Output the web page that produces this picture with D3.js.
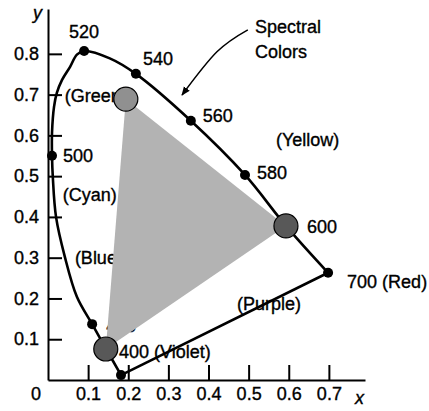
<!DOCTYPE html>
<html>
<head>
<meta charset="utf-8">
<script src="https://cdn.jsdelivr.net/npm/d3@7"></script>
<style>
  html, body { margin: 0; padding: 0; background: #fff; }
  svg { display: block; font-family: "Liberation Sans", Arial, Helvetica, sans-serif; }
  .axis text { font-size: 18px; fill: #000; stroke: #000; stroke-width: 0.35; }
  .axis path, .axis line { stroke: #000; stroke-width: 2; }
  .lbl { font-size: 18px; fill: #000; stroke: #000; stroke-width: 0.35; }
</style>
</head>
<body>
<script>
// spectral locus (chromaticity x, y)
const locusX = [0.182, 0.145, 0.110, 0.072, 0.042, 0.020, 0.012, 0.010, 0.010, 0.015, 0.022, 0.035, 0.055, 0.072, 0.090, 0.154, 0.219, 0.356, 0.491, 0.593, 0.698];
const locusY = [0.012, 0.076, 0.137, 0.204, 0.302, 0.400, 0.498, 0.550, 0.606, 0.670, 0.704, 0.736, 0.768, 0.798, 0.807, 0.789, 0.751, 0.636, 0.503, 0.378, 0.263];

// marked wavelengths
const waves = [400, 480, 500, 520, 540, 560, 580, 600, 700];
const waveX = [0.182, 0.110, 0.010, 0.090, 0.219, 0.356, 0.491, 0.593, 0.698];
const waveY = [0.012, 0.137, 0.550, 0.807, 0.751, 0.636, 0.503, 0.378, 0.263];
const waveText = ['400 (Violet)', '480', '500', '520', '540', '560', '580', '600', '700 (Red)'];

// primaries (triangle corners)
const primName = ['green', 'red', 'violet'];
const primX = [0.194, 0.593, 0.144];
const primY = [0.689, 0.378, 0.076];

// region labels
const regionText = ['(Green)', '(Cyan)', '(Blue)', '(Yellow)', '(Purple)'];
const regionX = [0.042, 0.037, 0.067, 0.568, 0.471];
const regionY = [0.683, 0.440, 0.285, 0.574, 0.172];

const xTicks = [0.1, 0.2, 0.3, 0.4, 0.5, 0.6, 0.7];
const yTicks = [0.1, 0.2, 0.3, 0.4, 0.5, 0.6, 0.7, 0.8];

// arrow from "Spectral Colors" to the curve
const arrowX = [0.498, 0.421, 0.334];
const arrowY = [0.859, 0.805, 0.699];

const width = 429, height = 411;

const x = d3.scaleLinear().domain([0, 0.79]).range([48, 365]);
const y = d3.scaleLinear().domain([0, 0.91]).range([380, 9]);

const svg = d3.select('body').append('svg')
  .attr('width', width)
  .attr('height', height);

svg.append('defs').append('marker')
  .attr('id', 'head')
  .attr('viewBox', '0 0 10 10')
  .attr('refX', 9).attr('refY', 5)
  .attr('markerWidth', 9).attr('markerHeight', 9)
  .attr('markerUnits', 'userSpaceOnUse')
  .attr('orient', 'auto')
  .append('path')
  .attr('d', 'M0,1 L10,5 L0,9 Z')
  .attr('fill', '#000');

// axes
svg.append('g')
  .attr('class', 'axis')
  .attr('transform', `translate(0,${y(0)})`)
  .call(d3.axisBottom(x).tickValues(xTicks).tickSize(-15).tickSizeOuter(0).tickPadding(7).tickFormat(d3.format('.1f')));

svg.append('g')
  .attr('class', 'axis')
  .attr('transform', `translate(${x(0)},0)`)
  .call(d3.axisLeft(y).tickValues(yTicks).tickSize(-14).tickSizeOuter(0).tickPadding(9).tickFormat(d3.format('.1f')));

svg.selectAll('.axis .domain').attr('stroke-width', 2);

svg.append('text').attr('class', 'lbl')
  .attr('x', x(0) - 12).attr('y', y(0) + 20)
  .attr('text-anchor', 'middle')
  .text('0');

svg.append('text').attr('class', 'lbl')
  .attr('x', x(0) - 15).attr('y', 19)
  .attr('font-style', 'italic')
  .text('y');

svg.append('text').attr('class', 'lbl')
  .attr('x', 355).attr('y', y(0) + 24)
  .attr('font-style', 'italic')
  .text('x');

// labels that end up partly hidden under the triangle
svg.selectAll('.region')
  .data(regionText)
  .join('text')
  .attr('class', 'lbl region')
  .attr('x', (d, i) => x(regionX[i]))
  .attr('y', (d, i) => y(regionY[i]))
  .text(d => d);

// offsets of wavelength labels from their dots
const off = {
  400: [-2, -17, 'start'], 480: [14, 8, 'start'], 500: [11, 6, 'start'],
  520: [0, -13, 'middle'], 540: [7, -9, 'start'], 560: [12, 1, 'start'],
  580: [12, 4, 'start'], 600: [21, 7, 'start'], 700: [19, 15, 'start'],
};

svg.selectAll('.wave')
  .data(waves)
  .join('text')
  .attr('class', 'lbl wave')
  .attr('x', (d, i) => x(waveX[i]) + off[d][0])
  .attr('y', (d, i) => y(waveY[i]) + off[d][1])
  .attr('text-anchor', d => off[d][2])
  .text((d, i) => waveText[i]);

const title = svg.append('text').attr('class', 'lbl')
  .attr('x', 255).attr('y', 33);
title.append('tspan').text('Spectral');
title.append('tspan').attr('x', 255).attr('dy', 25).text('Colors');

svg.append('path')
  .datum(arrowX.map((d, i) => [x(d), y(arrowY[i])]))
  .attr('d', d3.line().curve(d3.curveNatural))
  .attr('fill', 'none')
  .attr('stroke', '#000')
  .attr('stroke-width', 1.5)
  .attr('marker-end', 'url(#head)');

// gamut triangle
svg.append('path')
  .datum(primX.map((d, i) => [x(d), y(primY[i])]))
  .attr('d', d => 'M' + d.join('L') + 'Z')
  .attr('fill', '#b3b3b3');

// spectral locus + purple line
svg.append('path')
  .datum(locusX.map((d, i) => [x(d), y(locusY[i])]))
  .attr('d', d3.line().curve(d3.curveCatmullRom))
  .attr('fill', 'none')
  .attr('stroke', '#000')
  .attr('stroke-width', 2.6);

svg.append('line')
  .attr('x1', x(waveX[8])).attr('y1', y(waveY[8]))
  .attr('x2', x(waveX[0])).attr('y2', y(waveY[0]))
  .attr('stroke', '#000')
  .attr('stroke-width', 2.6);

svg.selectAll('.dot')
  .data(waves)
  .join('circle')
  .attr('class', 'dot')
  .attr('cx', (d, i) => x(waveX[i]))
  .attr('cy', (d, i) => y(waveY[i]))
  .attr('r', 5)
  .attr('fill', '#000');

svg.selectAll('.prim')
  .data(primName)
  .join('circle')
  .attr('class', 'prim')
  .attr('cx', (d, i) => x(primX[i]))
  .attr('cy', (d, i) => y(primY[i]))
  .attr('r', 12)
  .attr('fill', d => d === 'green' ? '#909090' : '#585858')
  .attr('stroke', '#000')
  .attr('stroke-width', 1.2);
</script>
</body>
</html>
